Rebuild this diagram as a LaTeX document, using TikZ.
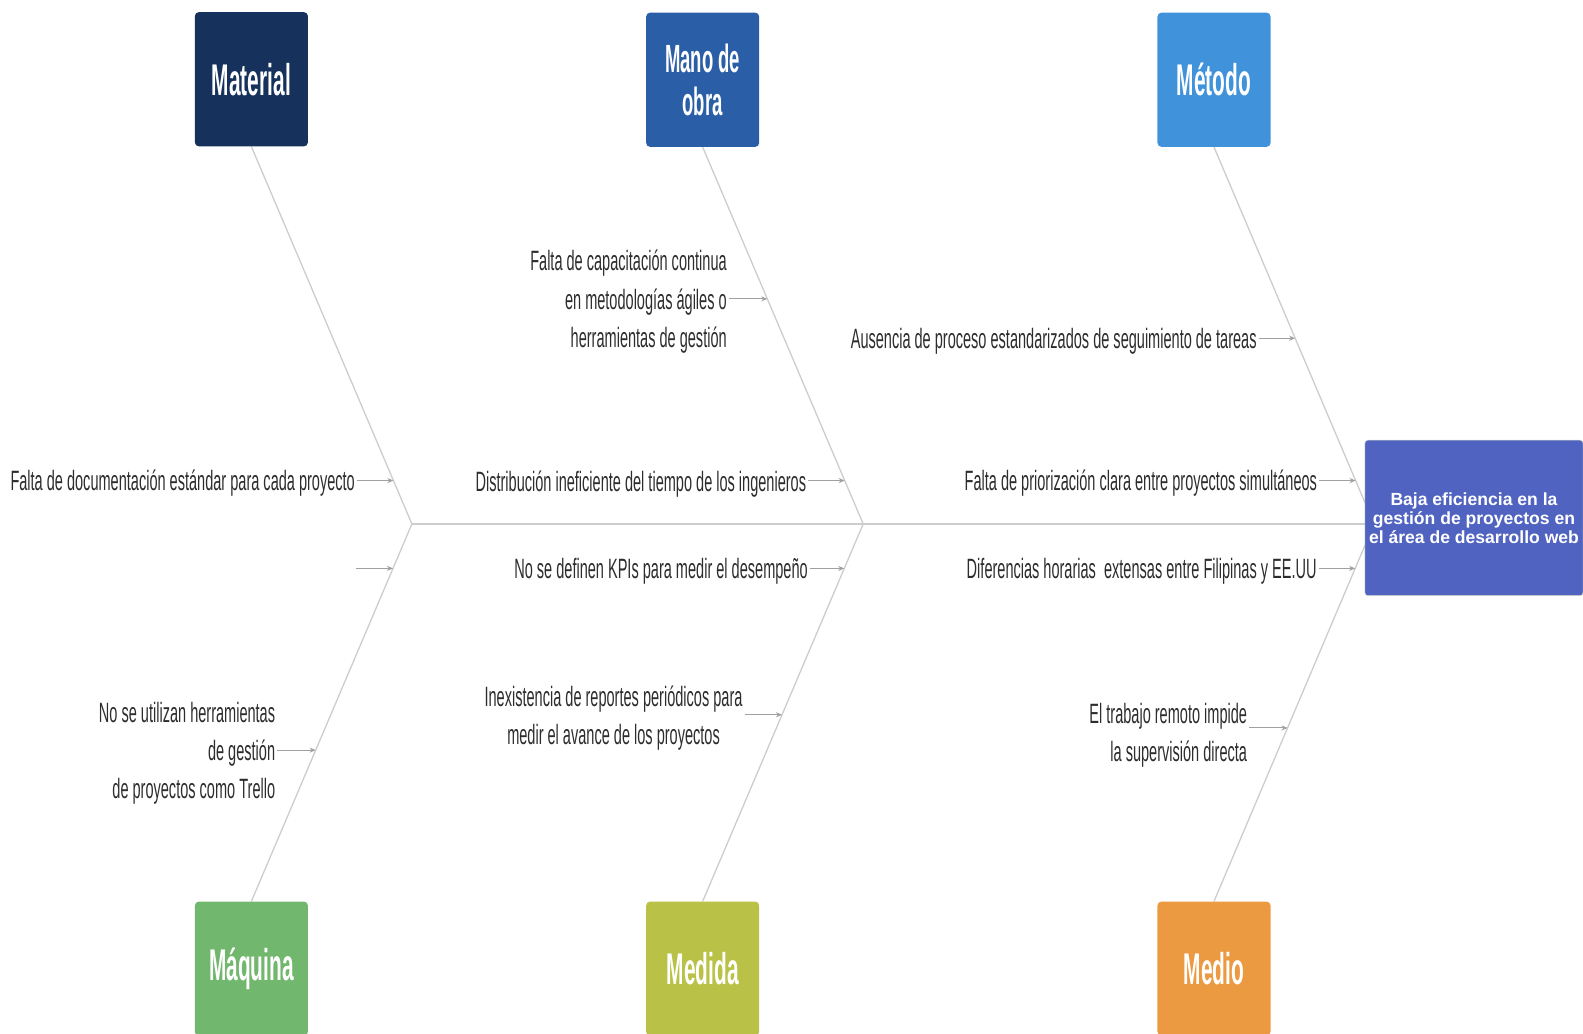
\documentclass[tikz,border=0pt]{standalone}
\usepackage{fontspec}
\setmainfont{Liberation Sans}
\newfontfamily\causafont[FakeStretch=0.52]{Liberation Sans}
\newfontfamily\catfont[FakeStretch=0.47]{Liberation Sans}
\usetikzlibrary{
    arrows.meta,
    positioning,
    backgrounds
}
\definecolor{materialblue}{RGB}{22, 50, 92}
\definecolor{manoblue}{RGB}{42, 94, 166}
\definecolor{metodoblue}{RGB}{64, 146, 218}
\definecolor{maquinagreen}{RGB}{114, 183, 110}
\definecolor{medidaolive}{RGB}{185, 194, 70}
\definecolor{medioorange}{RGB}{236, 154, 66}
\definecolor{efectoblue}{RGB}{80, 99, 192}
\definecolor{textgray}{RGB}{45, 45, 45}
\definecolor{linegray}{RGB}{205, 205, 205}
\definecolor{arrowgray}{RGB}{160, 160, 160}

\begin{document}
\begin{tikzpicture}[x=1pt, y=-1pt,
        categoria/.style={rounded corners=4pt, minimum width=112pt, minimum height=133pt, text=white, align=center,
            font=\catfont\bfseries\fontsize{44}{41}\selectfont},
        causa/.style={text=textgray, align=right, inner sep=2pt, yshift=-3pt, font=\causafont\fontsize{27.7}{38}\selectfont},
        espina/.style={draw=linegray, line width=1.3pt},
        flecha/.style={->, draw=arrowgray, line width=1.1pt, >={Stealth[length=6pt, width=5pt]}}
    ]
        \useasboundingbox (0,0) rectangle (1568,1024);

        % Categorias
        \node[categoria, fill=materialblue] (mat) at (249, 78.5) {Material};
        \node[categoria, fill=manoblue, font=\catfont\bfseries\fontsize{39}{42}\selectfont] (mano) at (696, 79) {Mano de\\obra};
        \node[categoria, fill=metodoblue] (met) at (1202.5, 79) {Método};
        \node[categoria, fill=maquinagreen] (maq) at (249, 959.5) {Máquina};
        \node[categoria, fill=medidaolive] (med) at (696, 959.5) {Medida};
        \node[categoria, fill=medioorange] (medio) at (1202.5, 959.5) {Medio};

        % Efecto
        \node[fill=efectoblue, draw=efectoblue!60!yellow!40, rounded corners=3pt, minimum width=216pt, minimum height=154pt,
            inner sep=3pt, text=white, align=center, font=\bfseries\fontsize{17.4}{19}\selectfont] (efecto) at (1460, 513) {
            Baja eficiencia en la\\
            gestión de proyectos en\\
            el área de desarrollo web
        };

        % Vertices de las espinas
        \coordinate (v1) at (408, 519);
        \coordinate (v2) at (855, 519);
        \coordinate (v3) at (1361, 519);

        % Puntos sobre las espinas
        \coordinate (p1) at (intersection of mat.south--v1 and 0,476--1,476);
        \coordinate (p2) at (intersection of maq.north--v1 and 0,563--1,563);
        \coordinate (p3) at (intersection of maq.north--v1 and 0,743--1,743);
        \coordinate (p4) at (intersection of mano.south--v2 and 0,296--1,296);
        \coordinate (p5) at (intersection of mano.south--v2 and 0,476--1,476);
        \coordinate (p6) at (intersection of med.north--v2 and 0,563--1,563);
        \coordinate (p7) at (intersection of med.north--v2 and 0,708--1,708);
        \coordinate (p8) at (intersection of met.south--v3 and 0,335--1,335);
        \coordinate (p9) at (intersection of met.south--v3 and 0,476--1,476);
        \coordinate (p10) at (intersection of medio.north--v3 and 0,563--1,563);
        \coordinate (p11) at (intersection of medio.north--v3 and 0,721--1,721);

        % Causas
        \node[causa, left=36 of p1] (c1) {Falta de documentación estándar para cada proyecto};
        \coordinate[left=37 of p2] (c2);
        \node[causa, left=38 of p3] (c3) {No se utilizan herramientas\\de gestión\\de proyectos como Trello};
        \node[causa, left=38 of p4] (c4) {Falta de capacitación continua\\en metodologías ágiles o\\herramientas de gestión};
        \node[causa, left=36 of p5] (c5) {Distribución ineficiente del tiempo de los ingenieros};
        \node[causa, left=34 of p6] (c6) {No se definen KPIs para medir el desempeño};
        \node[causa, align=center, left=37 of p7] (c7) {Inexistencia de reportes periódicos para\\medir el avance de los proyectos};
        \node[causa, left=36 of p8] (c8) {Ausencia de proceso estandarizados de seguimiento de tareas};
        \node[causa, left=36 of p9] (c9) {Falta de priorización clara entre proyectos simultáneos};
        \node[causa, left=36 of p10] (c10) {Diferencias horarias\ \ extensas entre Filipinas y EE.UU};
        \node[causa, yshift=-4pt, left=38 of p11] (c11) {El trabajo remoto impide\\la supervisión directa};

        % Flechas
        \draw[flecha] (c1.east |- p1) -- (p1);
        \draw[flecha] (c2) -- (p2);
        \draw[flecha] (c3.east |- p3) -- (p3);
        \draw[flecha] (c4.east |- p4) -- (p4);
        \draw[flecha] (c5.east |- p5) -- (p5);
        \draw[flecha] (c6.east |- p6) -- (p6);
        \draw[flecha] (c7.east |- p7) -- (p7);
        \draw[flecha] (c8.east |- p8) -- (p8);
        \draw[flecha] (c9.east |- p9) -- (p9);
        \draw[flecha] (c10.east |- p10) -- (p10);
        \draw[flecha] (c11.east |- p11) -- (p11);

        % Espinas
        \begin{scope}[on background layer]
            \draw[espina, line width=1.6pt] (v1) -- (v1 -| efecto.west);
            \draw[espina] (mat.south) -- (v1);
            \draw[espina] (maq.north) -- (v1);
            \draw[espina] (mano.south) -- (v2);
            \draw[espina] (med.north) -- (v2);
            \draw[espina] (met.south) -- (v3);
            \draw[espina] (medio.north) -- (v3);
        \end{scope}
    \end{tikzpicture}
\end{document}
